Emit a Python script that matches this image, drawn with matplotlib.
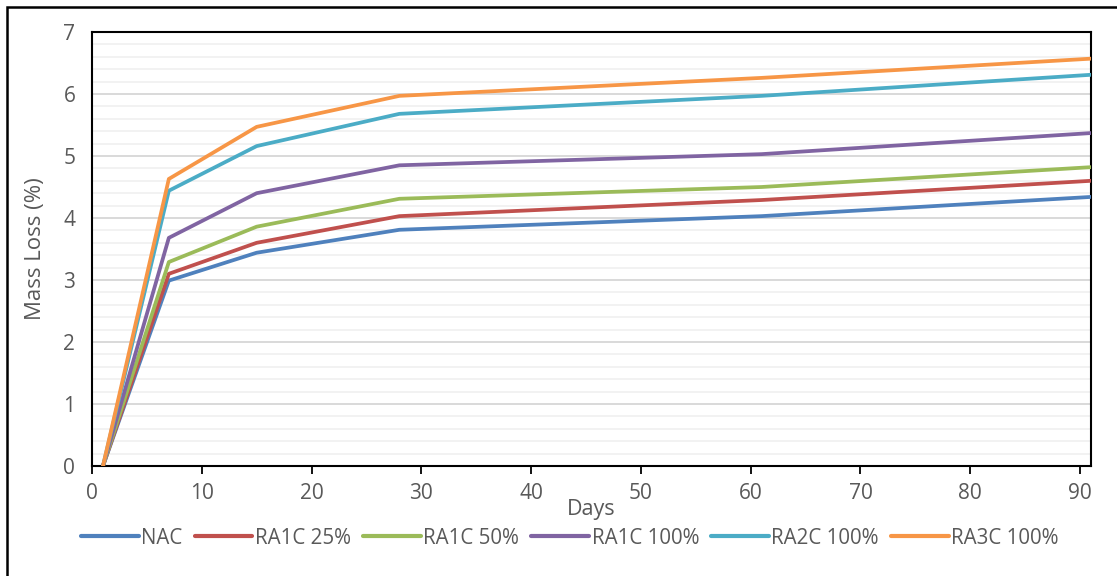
import matplotlib
matplotlib.use("Agg")
import matplotlib.pyplot as plt
from matplotlib.patches import Rectangle
from matplotlib.ticker import MultipleLocator

plt.rcParams["font.family"] = ["Open Sans", "DejaVu Sans"]

days = [1, 7, 15, 28, 61, 91]
nac = [0, 2.99, 3.44, 3.81, 4.03, 4.34]
ra1c_25 = [0, 3.10, 3.60, 4.03, 4.29, 4.60]
ra1c_50 = [0, 3.29, 3.86, 4.31, 4.50, 4.82]
ra1c_100 = [0, 3.68, 4.40, 4.85, 5.03, 5.37]
ra2c_100 = [0, 4.44, 5.16, 5.68, 5.97, 6.31]
ra3c_100 = [0, 4.63, 5.47, 5.97, 6.26, 6.57]

labels = ["NAC", "RA1C 25%", "RA1C 50%", "RA1C 100%", "RA2C 100%", "RA3C 100%"]
series = [nac, ra1c_25, ra1c_50, ra1c_100, ra2c_100, ra3c_100]
colors = ["#4F81BD", "#C0504D", "#9BBB59", "#8064A2", "#4BACC6", "#F79646"]

text_c = "#595959"

fig = plt.figure(figsize=(11.17, 5.76), dpi=100)
ax = fig.add_axes([92 / 1117, 1 - 466 / 576, 999 / 1117, 434 / 576])

for vals, lab, c in zip(series, labels, colors):
    ax.plot(days, vals, color=c, lw=2.7, label=lab, solid_joinstyle="round",
            solid_capstyle="round", zorder=3)

ax.set_xlim(0, 91)
ax.set_ylim(0, 7)
ax.xaxis.set_major_locator(MultipleLocator(10))
ax.yaxis.set_major_locator(MultipleLocator(1))
ax.yaxis.set_minor_locator(MultipleLocator(0.2))
ax.grid(axis="y", which="major", color="#D9D9D9", lw=1.4, zorder=0)
ax.grid(axis="y", which="minor", color="#F2F2F2", lw=1.4, zorder=0)
ax.set_axisbelow(True)

for s in ax.spines.values():
    s.set_color("black")
    s.set_linewidth(1.5)

ax.tick_params(axis="x", direction="out", length=6, width=1.3, color="black",
               labelsize=15, labelcolor=text_c, pad=6)
ax.tick_params(axis="y", which="both", length=0, labelsize=15, labelcolor=text_c, pad=12)

ax.set_xlabel("Days", fontsize=15.5, color=text_c)
ax.xaxis.set_label_coords(0.5, -0.1)
ax.xaxis.label.set_va("center")
ax.set_ylabel("Mass Loss (%)", fontsize=16, color=text_c)
ax.yaxis.set_label_coords(-0.057, 0.5)
ax.yaxis.label.set_va("center")

leg = fig.legend(loc="center", bbox_to_anchor=(570 / 1117, 1 - 538 / 576), ncol=6,
                 frameon=False, fontsize=14.8, labelcolor=text_c, handlelength=2.8,
                 handletextpad=0.12, columnspacing=0.6)
for h in leg.legend_handles:
    h.set_linewidth(3.0)

fig.patches.append(Rectangle((7 / 1117, -0.1), 1.2, 1.1 - 7 / 576,
                             transform=fig.transFigure, fill=False,
                             edgecolor="black", lw=1.8))

fig.savefig("out.png", dpi=100)
